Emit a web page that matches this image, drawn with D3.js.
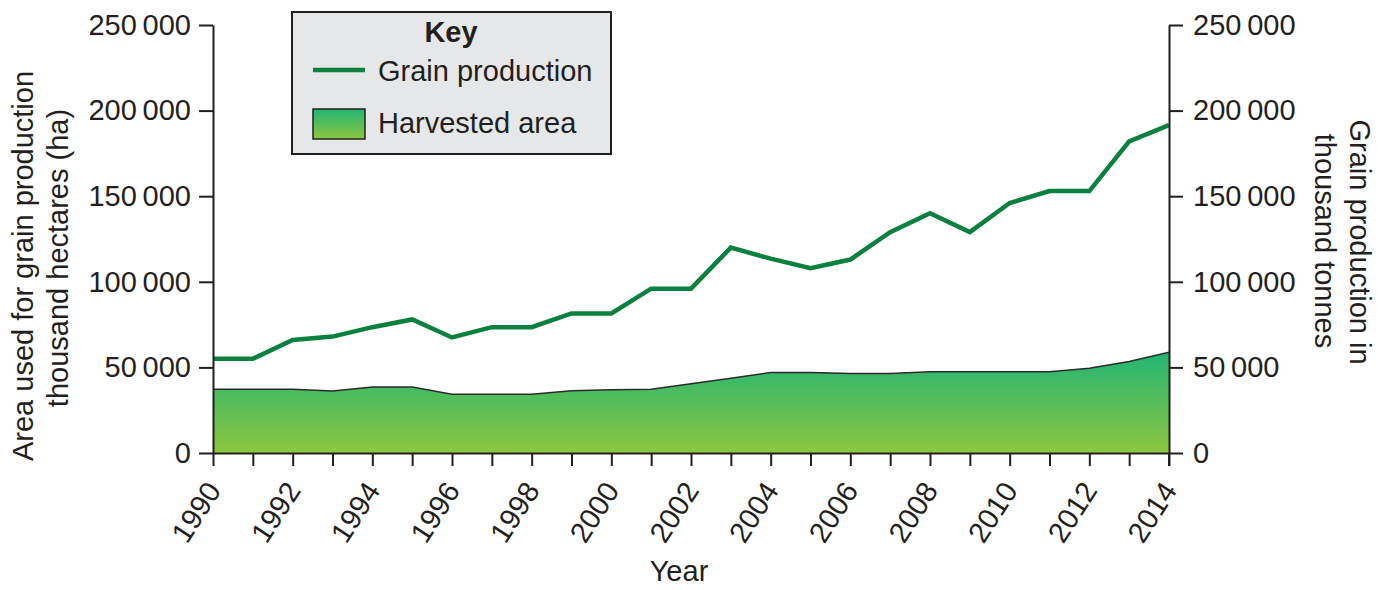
<!DOCTYPE html>
<html>
<head>
<meta charset="utf-8">
<script src="https://cdn.jsdelivr.net/npm/d3@7"></script>
<style>
  html, body { margin: 0; padding: 0; background: #ffffff; }
  svg { display: block; }
  text { font-family: "Liberation Sans", Arial, Helvetica, sans-serif; fill: #231f20; }
</style>
</head>
<body>
<svg id="chart" width="1392" height="590"></svg>
<script>
// ---- Data ----
const years = [1990,1991,1992,1993,1994,1995,1996,1997,1998,1999,2000,2001,2002,
               2003,2004,2005,2006,2007,2008,2009,2010,2011,2012,2013,2014];
const grainProduction = [55000,55000,66000,68000,73500,78000,67500,73500,73500,81500,81500,96000,96000,
                         120000,113500,108000,113000,129000,140000,129000,146000,153000,153000,182000,191500];
const harvestedArea = [37200,37200,37200,36200,38500,38500,34300,34300,34300,36300,37000,37200,40500,
                       43600,47000,47000,46500,46500,47500,47500,47500,47500,49500,53500,58800];
const yTicks = [0,50000,100000,150000,200000,250000];
const xLabelYears = [1990,1992,1994,1996,1998,2000,2002,2004,2006,2008,2010,2012,2014];

(function () {
// ---- Layout ----
const pLeft = 213, pRight = 1169, pTop = 25, pBottom = 453;
const FS = 29;
const svg = d3.select("#chart");
const ink = "#231f20";
const lineColor = "#0b803f";

const x = d3.scaleLinear().domain([1990, 2014]).range([pLeft, pRight]);
const yL = d3.scaleLinear().domain([0, 250000]).range([pBottom, pTop]);
const yR = d3.scaleLinear().domain([0, 250000]).range([pBottom, pTop]);

const fmt = d => d3.format(",")(d).replace(",", "\u2009");

// gradient
const defs = svg.append("defs");
const grad = defs.append("linearGradient").attr("id", "areaGrad")
  .attr("x1", 0).attr("y1", 0).attr("x2", 0).attr("y2", 1);
grad.append("stop").attr("offset", "0%").attr("stop-color", "#22b574");
grad.append("stop").attr("offset", "100%").attr("stop-color", "#8dc63f");

const data = years.map((yr, i) => ({ yr, p: grainProduction[i], a: harvestedArea[i] }));

// area
svg.append("path").datum(data)
  .attr("fill", "url(#areaGrad)")
  .attr("d", d3.area().x(d => x(d.yr)).y0(yL(0)).y1(d => yL(d.a)));
svg.append("path").datum(data)
  .attr("fill", "none").attr("stroke", "#2b2b2b").attr("stroke-width", 1.5)
  .attr("d", d3.line().x(d => x(d.yr)).y(d => yL(d.a)));

// production line
svg.append("path").datum(data)
  .attr("fill", "none").attr("stroke", lineColor).attr("stroke-width", 4.5)
  .attr("stroke-linejoin", "miter")
  .attr("d", d3.line().x(d => x(d.yr)).y(d => yR(d.p)));

// axes
function styleAxis(g) {
  g.selectAll("path.domain").attr("stroke", ink).attr("stroke-width", 2);
  g.selectAll(".tick line").attr("stroke", ink).attr("stroke-width", 2);
  g.selectAll(".tick text").attr("font-size", FS).attr("fill", ink)
    .attr("font-family", "'Liberation Sans', Arial, sans-serif");
}

const gL = svg.append("g").attr("transform", `translate(${pLeft},0)`)
  .call(d3.axisLeft(yL).tickValues(yTicks).tickFormat(fmt).tickSize(14).tickSizeOuter(0).tickPadding(8));
styleAxis(gL);

const gR = svg.append("g").attr("transform", `translate(${pRight},0)`)
  .call(d3.axisRight(yR).tickValues(yTicks).tickFormat(fmt).tickSize(14).tickSizeOuter(0).tickPadding(10));
styleAxis(gR);

const gX = svg.append("g").attr("transform", `translate(0,${pBottom})`)
  .call(d3.axisBottom(x).tickValues(years)
    .tickFormat(d => xLabelYears.includes(d) ? String(d) : "")
    .tickSize(13).tickSizeOuter(0));
styleAxis(gX);
gX.selectAll(".tick text")
  .attr("x", 0).attr("y", 0).attr("dy", "0.35em")
  .attr("text-anchor", "end")
  .attr("transform", "translate(0,32) rotate(-57)");

// extend right axis to bottom of x ticks
svg.append("line").attr("x1", pRight).attr("x2", pRight).attr("y1", pBottom).attr("y2", pBottom + 13)
  .attr("stroke", ink).attr("stroke-width", 2);

// axis titles
svg.append("text").attr("transform", "translate(33,266) rotate(-90)")
  .attr("text-anchor", "middle").attr("font-size", FS).text("Area used for grain production");
svg.append("text").attr("transform", "translate(68,258) rotate(-90)")
  .attr("text-anchor", "middle").attr("font-size", FS).text("thousand hectares (ha)");
svg.append("text").attr("transform", "translate(1350,242) rotate(90)")
  .attr("text-anchor", "middle").attr("font-size", FS).text("Grain production in");
svg.append("text").attr("transform", "translate(1315,241) rotate(90)")
  .attr("text-anchor", "middle").attr("font-size", FS).text("thousand tonnes");
svg.append("text").attr("x", 679).attr("y", 581)
  .attr("text-anchor", "middle").attr("font-size", FS).text("Year");

// legend
const lg = svg.append("g");
lg.append("rect").attr("x", 292).attr("y", 12).attr("width", 319).attr("height", 142)
  .attr("fill", "#e6e7e8").attr("stroke", ink).attr("stroke-width", 2);
lg.append("text").attr("x", 451).attr("y", 42).attr("text-anchor", "middle")
  .attr("font-size", FS).attr("font-weight", "bold").text("Key");
lg.append("line").attr("x1", 313).attr("x2", 365).attr("y1", 70).attr("y2", 70)
  .attr("stroke", lineColor).attr("stroke-width", 4.5);
lg.append("text").attr("x", 378).attr("y", 81).attr("font-size", FS).text("Grain production");
lg.append("rect").attr("x", 313).attr("y", 109).attr("width", 52).attr("height", 30)
  .attr("fill", "url(#areaGrad)").attr("stroke", ink).attr("stroke-width", 1.5);
lg.append("text").attr("x", 378).attr("y", 133).attr("font-size", FS).text("Harvested area");
})();
</script>
</body>
</html>
